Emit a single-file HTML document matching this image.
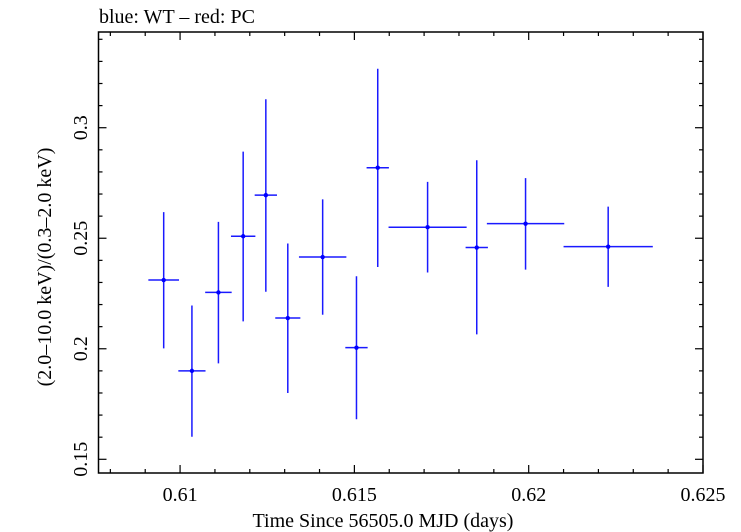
<!DOCTYPE html>
<html><head><meta charset="utf-8"><style>
html,body{margin:0;padding:0;background:#fff;}
svg{display:block;font-family:"Liberation Serif",serif;}
</style></head><body>
<svg id="chart" width="741" height="532" viewBox="0 0 741 532">
<text x="99" y="23" font-size="20" fill="#000">blue: WT – red: PC</text>
<g id="ticks"></g>
<g id="marks"></g>
<rect x="98.5" y="32" width="604.5" height="441" fill="none" stroke="#000" stroke-width="1.5"/>
<text x="383" y="527" font-size="20" text-anchor="middle">Time Since 56505.0 MJD (days)</text>
<text transform="translate(51,267) rotate(-90)" font-size="20" text-anchor="middle">(2.0–10.0 keV)/(0.3–2.0 keV)</text>
</svg>
<script>
const times = [0.60953,0.61034,0.61110,0.61181,0.61246,0.61309,0.61409,0.61506,0.61567,0.61710,0.61851,0.61991,0.62228];
const timeErr = [0.00044,0.00039,0.00038,0.00035,0.00032,0.00036,0.00068,0.00032,0.00032,0.00112,0.00032,0.00111,0.00128];
const ratio = [0.2311,0.1900,0.2255,0.2509,0.2695,0.2139,0.2415,0.2005,0.2819,0.2550,0.2458,0.2566,0.2462];
const ratioHi = [0.2618,0.2196,0.2574,0.2892,0.3129,0.2476,0.2676,0.2328,0.3267,0.2755,0.2853,0.2772,0.2643];
const ratioLo = [0.2002,0.1602,0.1934,0.2124,0.2258,0.1800,0.2154,0.1681,0.2370,0.2345,0.2065,0.2358,0.2280];
const xTickLabels = ["0.61","0.615","0.62","0.625"];
const yTickLabels = ["0.15","0.2","0.25","0.3"];

const X0=98.5,X1=703,Y0=473,Y1=32;
const xMin=0.60766,xMax=0.625,yMin=0.1438,yMax=0.3433;
const sx=v=>X0+(v-xMin)/(xMax-xMin)*(X1-X0);
const sy=v=>Y0-(v-yMin)/(yMax-yMin)*(Y0-Y1);
const NS='http://www.w3.org/2000/svg';
function mk(tag,attrs,parent){const e=document.createElementNS(NS,tag);for(const k in attrs)e.setAttribute(k,attrs[k]);parent.appendChild(e);return e;}
const tg=document.getElementById('ticks'), mg=document.getElementById('marks');
for(let i=0;i<=17;i++){const v=0.608+i*0.001; if(v>xMax+1e-9)break; const x=sx(v);
 const major=Math.abs(v*200-Math.round(v*200))<1e-6; const L=major?8:4;
 const t1=mk('line',{x1:x,x2:x,y1:Y0,y2:Y0-L,stroke:'#000','stroke-width':1.2},tg);
 
 
 const t2=mk('line',{x1:x,x2:x,y1:Y1,y2:Y1+L,stroke:'#000','stroke-width':1.2},tg);
 
 }
xTickLabels.forEach(s=>{const t=mk('text',{x:sx(parseFloat(s)),y:501,'font-size':20,'text-anchor':'middle'},tg);t.textContent=s;
 
 });
for(let i=0;i<=20;i++){const v=0.15+i*0.01; if(v>yMax)break; const y=sy(v);
 const major=Math.abs(v*20-Math.round(v*20))<1e-6; const L=major?8:4;
 const t1=mk('line',{x1:X0,x2:X0+L,y1:y,y2:y,stroke:'#000','stroke-width':1.2},tg);
 
 
 const t2=mk('line',{x1:X1,x2:X1-L,y1:y,y2:y,stroke:'#000','stroke-width':1.2},tg);
 
 }
yTickLabels.forEach(s=>{const y=sy(parseFloat(s));const t=mk('text',{transform:`translate(87,${y}) rotate(-90)`,'font-size':20,'text-anchor':'middle'},tg);t.textContent=s;
 
 });
times.forEach((t,i)=>{const g=mk('g',{},mg);
 
 
 mk('line',{x1:sx(t-timeErr[i]),x2:sx(t+timeErr[i]),y1:sy(ratio[i]),y2:sy(ratio[i]),stroke:'#1a1aff','stroke-width':1.5},g);
 mk('line',{x1:sx(t),x2:sx(t),y1:sy(ratioHi[i]),y2:sy(ratioLo[i]),stroke:'#1a1aff','stroke-width':1.5},g);
 mk('circle',{cx:sx(t),cy:sy(ratio[i]),r:2.2,fill:'#0000ff'},g);});
</script>
</body></html>
